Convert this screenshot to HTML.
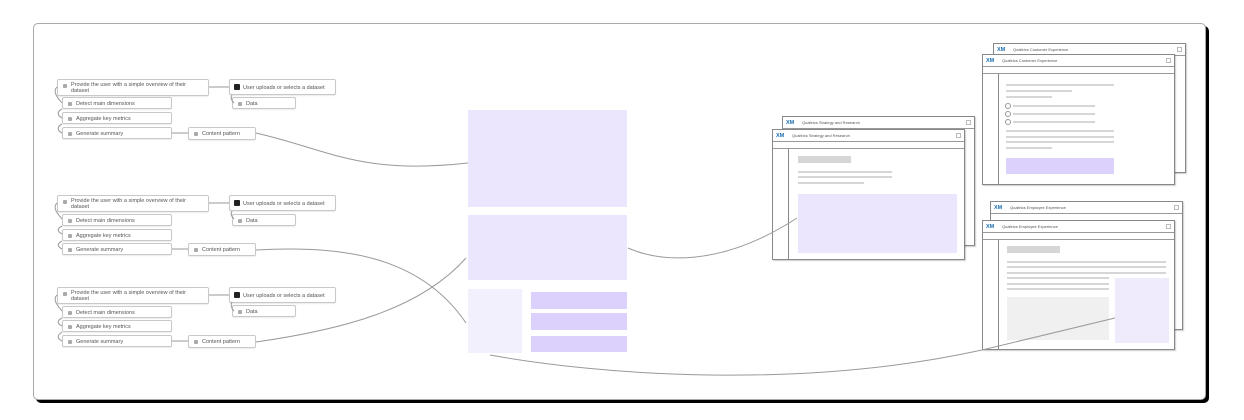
<!DOCTYPE html>
<html><head><meta charset="utf-8"><style>
*{margin:0;padding:0;box-sizing:border-box}
body{width:1244px;height:420px;background:#fff;position:relative;overflow:hidden;font-family:"Liberation Sans",sans-serif}
.a{position:absolute}
.frame{left:33px;top:23px;width:1173px;height:377px;border:1px solid #aaa;border-radius:5px;box-shadow:3px 3px 0 #000;background:#fff}
.n{position:absolute;border:1px solid #c8c8c8;border-radius:2px;background:#fff;font-size:5.5px;color:#555;line-height:6px;padding:2px 3px 0 13px;box-shadow:0 1px 1px rgba(0,0,0,.08)}
.n.s{white-space:nowrap;padding-top:3px}
.n:before{content:"";position:absolute;left:5px;top:4px;width:4px;height:4px;background:#aaa;border-radius:1px}
.n.dk:before{background:#222;width:6px;height:6px;top:4px;left:4px}
.w{position:absolute;border:1px solid #888;background:#fff;box-shadow:1px 1px 1px rgba(0,0,0,.2)}
.hd{position:absolute;left:0;right:0;top:0;height:12px;border-bottom:1px solid #999;font-size:4px;color:#555;line-height:12px;padding-left:19px;white-space:nowrap}
.hd b{position:absolute;left:3px;top:0;color:#1a6fb3;font-size:5.5px}
.hd i{position:absolute;right:3px;top:3px;width:5px;height:5px;border:1px solid #bbb}
.st{position:absolute;left:0;right:0;top:12px;height:7px;border-bottom:1px solid #999}
.sb{position:absolute;top:19px;bottom:0;border-left:1px solid #888}
.l{position:absolute;height:3px;background:#d6d6d6}
.c{position:absolute;width:6px;height:6px;border:1px solid #999;border-radius:50%}
</style></head><body>
<div class="a frame"></div>

<!-- group nodes -->
<div class="n" style="left:57px;top:79px;width:152px;height:17px">Provide the user with a simple overview of their dataset</div>
<div class="n s" style="left:62px;top:97px;width:110px;height:12px">Detect main dimensions</div>
<div class="n s" style="left:62px;top:112px;width:110px;height:12px">Aggregate key metrics</div>
<div class="n s" style="left:62px;top:127px;width:110px;height:12px">Generate summary</div>
<div class="n s" style="left:188px;top:127px;width:68px;height:13px">Content pattern</div>
<div class="n dk s" style="left:229px;top:79px;width:107px;height:16px;padding-top:5px">User uploads or selects a dataset</div>
<div class="n s" style="left:232px;top:97px;width:64px;height:12px">Data</div>

<div class="n" style="left:57px;top:195px;width:152px;height:17px">Provide the user with a simple overview of their dataset</div>
<div class="n s" style="left:62px;top:214px;width:110px;height:12px">Detect main dimensions</div>
<div class="n s" style="left:62px;top:229px;width:110px;height:12px">Aggregate key metrics</div>
<div class="n s" style="left:62px;top:243px;width:110px;height:12px">Generate summary</div>
<div class="n s" style="left:188px;top:243px;width:68px;height:13px">Content pattern</div>
<div class="n dk s" style="left:229px;top:195px;width:107px;height:16px;padding-top:5px">User uploads or selects a dataset</div>
<div class="n s" style="left:232px;top:214px;width:64px;height:12px">Data</div>

<div class="n" style="left:57px;top:287px;width:152px;height:17px">Provide the user with a simple overview of their dataset</div>
<div class="n s" style="left:62px;top:306px;width:110px;height:12px">Detect main dimensions</div>
<div class="n s" style="left:62px;top:320px;width:110px;height:12px">Aggregate key metrics</div>
<div class="n s" style="left:62px;top:335px;width:110px;height:12px">Generate summary</div>
<div class="n s" style="left:188px;top:335px;width:68px;height:13px">Content pattern</div>
<div class="n dk s" style="left:229px;top:287px;width:107px;height:16px;padding-top:5px">User uploads or selects a dataset</div>
<div class="n s" style="left:232px;top:305px;width:64px;height:12px">Data</div>

<!-- middle -->
<div class="a" style="left:468px;top:110px;width:159px;height:97px;background:#ebe5fd"></div>
<div class="a" style="left:468px;top:215px;width:159px;height:65px;background:#ebe5fd"></div>
<div class="a" style="left:468px;top:289px;width:54px;height:64px;background:#f3f0fe"></div>
<div class="a" style="left:531px;top:292px;width:96px;height:17px;background:#dcd0fc"></div>
<div class="a" style="left:531px;top:313px;width:96px;height:17px;background:#dcd0fc"></div>
<div class="a" style="left:531px;top:336px;width:96px;height:16px;background:#dcd0fc"></div>

<!-- strategy -->
<div class="w" style="left:782px;top:116px;width:193px;height:130px"><div class="hd"><b>XM</b>Qualtrics Strategy and Research<i></i></div></div>
<div class="w" style="left:772px;top:129px;width:193px;height:131px"><div class="hd"><b>XM</b>Qualtrics Strategy and Research<i></i></div><div class="st"></div><div class="sb" style="left:15px"></div>
<div class="l" style="left:25px;top:26px;width:53px;height:7px"></div>
<div class="l" style="left:25px;top:41px;width:94px;height:2px"></div>
<div class="l" style="left:25px;top:46px;width:94px;height:2px"></div>
<div class="l" style="left:25px;top:52px;width:66px;height:2px"></div>
<div class="a" style="left:25px;top:64px;width:159px;height:59px;background:#ebe5fd"></div>
</div>

<!-- customer -->
<div class="w" style="left:993px;top:43px;width:193px;height:130px"><div class="hd"><b>XM</b>Qualtrics Customer Experience<i></i></div></div>
<div class="w" style="left:982px;top:54px;width:193px;height:131px"><div class="hd"><b>XM</b>Qualtrics Customer Experience<i></i></div><div class="st"></div><div class="sb" style="left:15px"></div>
<div class="l" style="left:23px;top:29px;width:108px;height:2px"></div>
<div class="l" style="left:23px;top:35px;width:66px;height:2px"></div>
<div class="l" style="left:23px;top:41px;width:46px;height:2px"></div>
<div class="c" style="left:22px;top:48px"></div><div class="l" style="left:30px;top:50px;width:82px;height:2px"></div>
<div class="c" style="left:22px;top:56px"></div><div class="l" style="left:30px;top:58px;width:82px;height:2px"></div>
<div class="c" style="left:22px;top:64px"></div><div class="l" style="left:30px;top:66px;width:82px;height:2px"></div>
<div class="l" style="left:23px;top:75px;width:108px;height:2px"></div>
<div class="l" style="left:23px;top:81px;width:108px;height:2px"></div>
<div class="l" style="left:23px;top:86px;width:108px;height:2px"></div>
<div class="l" style="left:23px;top:92px;width:46px;height:2px"></div>
<div class="a" style="left:23px;top:103px;width:108px;height:16px;background:#dcd0fc"></div>
</div>

<!-- employee -->
<div class="w" style="left:990px;top:201px;width:193px;height:129px"><div class="hd"><b>XM</b>Qualtrics Employee Experience<i></i></div></div>
<div class="w" style="left:982px;top:220px;width:193px;height:130px"><div class="hd"><b>XM</b>Qualtrics Employee Experience<i></i></div><div class="st"></div><div class="sb" style="left:15px"></div>
<div class="l" style="left:24px;top:25px;width:53px;height:7px"></div>
<div class="l" style="left:24px;top:40px;width:159px;height:2px"></div>
<div class="l" style="left:24px;top:45px;width:159px;height:2px"></div>
<div class="l" style="left:24px;top:51px;width:159px;height:2px"></div>
<div class="l" style="left:24px;top:56px;width:102px;height:2px"></div>
<div class="l" style="left:24px;top:62px;width:102px;height:2px"></div>
<div class="l" style="left:24px;top:67px;width:102px;height:2px"></div>
<div class="a" style="left:24px;top:76px;width:102px;height:43px;background:#f0f0f0"></div>
<div class="a" style="left:132px;top:57px;width:54px;height:65px;background:#efebfd"></div>
</div>

<svg class="a" style="left:0;top:0" width="1244" height="420">
<g fill="none" stroke="#999" stroke-width="1">
<path d="M209 87 L229 87"/><path d="M209 203 L229 203"/><path d="M209 295 L229 295"/>
<path d="M172 133 L188 133"/><path d="M172 249 L188 249"/><path d="M172 341 L188 341"/>
<path d="M57 87 C52 92,58 98,62 103"/><path d="M62 109 C56 112,58 116,62 118"/><path d="M62 124 C56 127,58 131,62 133"/>
<path d="M57 203 C52 208,58 214,62 219"/><path d="M62 226 C56 229,58 232,62 234"/><path d="M62 241 C56 244,58 247,62 249"/>
<path d="M57 295 C52 300,58 306,62 311"/><path d="M62 318 C56 321,58 324,62 326"/><path d="M62 332 C56 336,58 339,62 341"/>
<path d="M232 95 C230 98,232 101,234 103"/><path d="M232 211 C230 214,232 217,234 219"/><path d="M232 302 C230 306,232 309,234 311"/>
<path d="M256 133 C330 150,360 175,468 163"/>
<path d="M256 250 C340 245,420 255,466 323"/>
<path d="M256 342 C340 330,420 310,466 258"/>
<path d="M628 248 C660 262,720 268,797 218"/>
<path d="M490 355 C600 375,800 390,982 350 L1115 318"/>
</g></svg>
</body></html>
